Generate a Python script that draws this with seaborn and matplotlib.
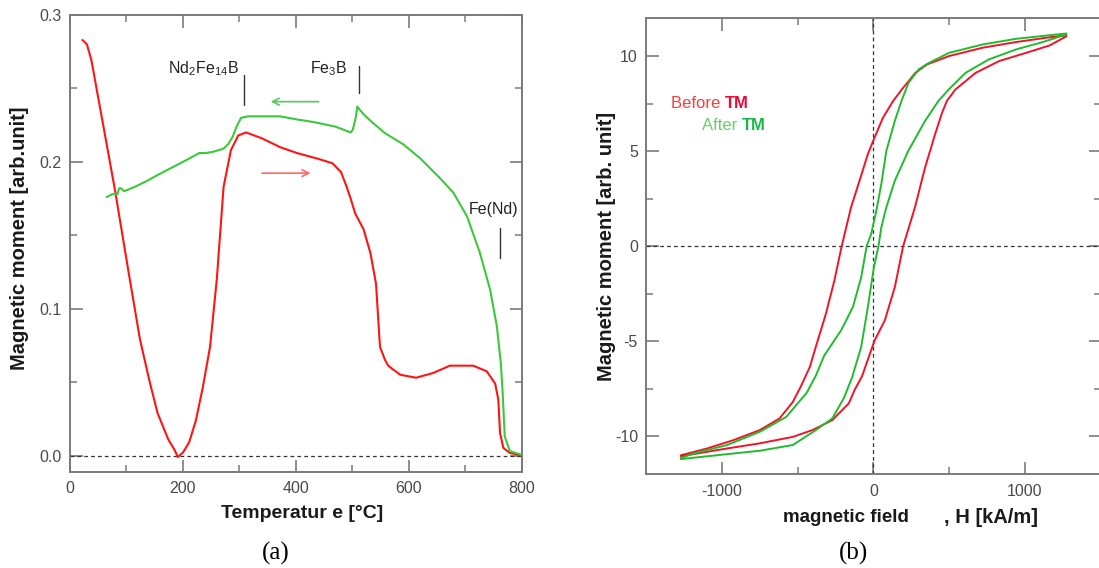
import matplotlib
matplotlib.use("Agg")
import matplotlib.pyplot as plt
import seaborn as sns
from matplotlib.ticker import MultipleLocator, FixedLocator

# ---------------- data: panel (a) thermomagnetic curves ----------------
temp_heating = [22, 30, 38, 56, 80, 105, 124, 140, 155, 174, 185, 191, 200, 211, 223,
                235, 248, 260, 272, 285, 298, 312, 340, 372, 402, 440, 465, 480, 490,
                497, 505, 520, 532, 542, 549, 558, 564, 585, 613, 643, 673, 714, 738,
                753, 758.6, 761.6, 767.5, 779, 800]
moment_heating = [0.283, 0.280, 0.269, 0.231, 0.180, 0.122, 0.079, 0.052, 0.029, 0.011,
                  0.004, -0.001, 0.002, 0.009, 0.024, 0.046, 0.074, 0.120, 0.183, 0.208,
                  0.218, 0.220, 0.216, 0.210, 0.206, 0.202, 0.199, 0.193, 0.183, 0.175,
                  0.165, 0.154, 0.138, 0.117, 0.074, 0.065, 0.061, 0.055, 0.053, 0.0562,
                  0.0612, 0.0612, 0.0574, 0.049, 0.038, 0.0154, 0.0052, 0.0018, 0.0]

temp_cooling = [800, 779, 770, 766, 763, 756, 744, 726, 703, 679, 655, 620, 590, 558, 535,
                521, 512, 509, 506, 501, 497, 470, 433, 400, 372, 340, 316, 303, 295, 288,
                280, 272, 255, 241, 229, 210, 185, 160, 136, 115, 96, 90, 87, 84, 75, 65]
moment_cooling = [0.0005, 0.003, 0.013, 0.045, 0.063, 0.088, 0.113, 0.138, 0.163, 0.179,
                  0.189, 0.2025, 0.212, 0.2195, 0.227, 0.232, 0.236, 0.2377, 0.230, 0.222,
                  0.220, 0.224, 0.227, 0.229, 0.231, 0.231, 0.231, 0.230, 0.224, 0.217,
                  0.212, 0.209, 0.207, 0.206, 0.206, 0.202, 0.197, 0.192, 0.187, 0.183,
                  0.180, 0.182, 0.182, 0.178, 0.178, 0.176]

phase_labels = [r"Nd$_2$Fe$_{14}$B", r"Fe$_3$B", "Fe(Nd)"]
phase_text_x = [174, 425, 707]
phase_text_y = [0.2637, 0.2637, 0.1673]
phase_mark_x = [308, 511.6, 761]
phase_mark_y0 = [0.239, 0.2467, 0.1345]
phase_mark_y1 = [0.259, 0.2655, 0.155]

# ---------------- data: panel (b) hysteresis loops ----------------
H_before_down = [1274, 1163, 941, 720, 498, 354, 277, 188, 130, 63, 3, -37, -92, -148,
                 -210, -258, -314, -381, -420, -481, -533, -620, -750, -924, -1098, -1272]
M_before_down = [11.1, 11.0, 10.75, 10.45, 10.01, 9.57, 9.13, 8.26, 7.65, 6.77, 5.64,
                 4.85, 3.45, 2.05, 0.0, -1.8, -3.55, -5.3, -6.35, -7.4, -8.2, -9.06,
                 -9.67, -10.2, -10.64, -11.0]
H_before_up = [-1272, -967, -750, -533, -402, -272, -163, -125, -76, 8, 75, 141, 196, 274,
               341, 407, 453, 485, 542, 675, 830, 1007, 1163, 1274]
M_before_up = [-11.05, -10.64, -10.37, -10.03, -9.67, -9.15, -8.27, -7.57, -6.85, -4.95,
               -3.9, -2.15, 0.0, 2.05, 4.15, 5.9, 7.03, 7.65, 8.26, 9.13, 9.75, 10.18,
               10.57, 11.05]

H_after_down = [1274, 1163, 941, 720, 498, 354, 299, 232, 185, 141, 85, 52, 19, -15, -45,
                -81, -136, -214, -325, -380, -440, -576, -750, -967, -1185, -1272]
M_after_down = [11.2, 11.11, 10.92, 10.62, 10.18, 9.6, 9.31, 8.61, 7.65, 6.6, 5.02, 3.28,
                1.87, 0.65, 0.0, -1.63, -3.2, -4.43, -5.75, -6.8, -7.7, -8.98, -9.76,
                -10.46, -10.9, -11.15]
H_after_up = [-1272, -967, -750, -533, -380, -272, -196, -141, -81, -37, 3, 33, 52, 85,
              141, 230, 341, 429, 498, 608, 763, 941, 1118, 1274]
M_after_up = [-11.2, -10.94, -10.76, -10.46, -9.67, -9.06, -8.0, -6.9, -5.3, -3.2, -1.1,
              0.0, 1.0, 2.05, 3.45, 5.02, 6.6, 7.65, 8.26, 9.13, 9.84, 10.36, 10.75, 11.15]

# ---------------- style ----------------
sns.set_style("ticks")
plt.rcParams["font.family"] = ["Liberation Sans", "DejaVu Sans"]
plt.rcParams["mathtext.default"] = "regular"
plt.rcParams["axes.unicode_minus"] = False

RED_A = "#ff1414"
GREEN_A = "#3cc83c"
RED_B = "#f01428"
GREEN_B = "#22bb30"
SPINE = "#7a7a7a"
TICKLAB = "#4a4a4a"
LABEL = "#1a1a1a"

W, Hh = 1099, 568
fig = plt.figure(figsize=(W / 100, Hh / 100), dpi=100)
ax1 = fig.add_axes([70 / W, 1 - 471.7 / Hh, (521.7 - 70) / W, (471.7 - 15) / Hh])
ax2 = fig.add_axes([646.3 / W, 1 - 474.3 / Hh, (1100.6 - 646.3) / W, (474.3 - 18.3) / Hh])


def style_axes(ax):
    for s in ax.spines.values():
        s.set_color(SPINE)
        s.set_linewidth(1.4)
    ax.tick_params(which="major", direction="in", length=9, width=1.2, color=SPINE,
                   top=True, right=True, labelsize=11.5, labelcolor=TICKLAB, pad=6)
    ax.tick_params(which="minor", direction="in", length=5, width=1.1, color=SPINE,
                   top=True, right=True)
    ax.tick_params(axis="x", which="major", pad=7)


# ---------------- panel (a) ----------------
ax1.axhline(0, color="#333333", lw=0.9, ls=(0, (3, 2.5)), zorder=1)
sns.lineplot(x=temp_heating, y=moment_heating, sort=False, estimator=None, ax=ax1,
             color=RED_A, lw=1.5, zorder=3)
sns.lineplot(x=temp_cooling, y=moment_cooling, sort=False, estimator=None, ax=ax1,
             color=GREEN_A, lw=1.5, zorder=3)
ax1.set_xlim(0, 800)
ax1.set_ylim(-0.011, 0.3)
ax1.xaxis.set_major_locator(FixedLocator([0, 200, 400, 600, 800]))
ax1.xaxis.set_minor_locator(MultipleLocator(100))
ax1.yaxis.set_major_locator(FixedLocator([0.0, 0.1, 0.2, 0.3]))
ax1.yaxis.set_minor_locator(MultipleLocator(0.05))
ax1.set_yticklabels(["0.0", "0.1", "0.2", "0.3"])
style_axes(ax1)
ax1.set_xlabel("")
ax1.set_ylabel("")

for lab, tx, ty, mx, y0, y1 in zip(phase_labels, phase_text_x, phase_text_y,
                                   phase_mark_x, phase_mark_y0, phase_mark_y1):
    ax1.text(tx, ty, lab, fontsize=11.5, color="#222222", ha="left", va="center")
    ax1.plot([mx, mx], [y0, y1], color="#333333", lw=1.0)

ax1.annotate("", xy=(350.5, 0.241), xytext=(445, 0.241),
             arrowprops=dict(arrowstyle="->", color="#55c855", lw=1.2,
                             mutation_scale=12))
ax1.annotate("", xy=(431, 0.1923), xytext=(335, 0.1923),
             arrowprops=dict(arrowstyle="->", color="#ff6a6a", lw=1.2,
                             mutation_scale=12))

# ---------------- panel (b) ----------------
ax2.axhline(0, color="#333333", lw=0.9, ls=(0, (3, 2.5)), zorder=1)
ax2.axvline(0, color="#333333", lw=0.9, ls=(0, (3, 2.5)), zorder=1)
for hx, my, col in [(H_before_down, M_before_down, RED_B), (H_before_up, M_before_up, RED_B),
                    (H_after_down, M_after_down, GREEN_B), (H_after_up, M_after_up, GREEN_B)]:
    sns.lineplot(x=hx, y=my, sort=False, estimator=None, ax=ax2, color=col, lw=1.4,
                 zorder=3)
ax2.set_xlim(-1500, 1500)
ax2.set_ylim(-12, 12)
ax2.xaxis.set_major_locator(FixedLocator([-1000, 0, 1000]))
ax2.xaxis.set_minor_locator(FixedLocator([-500, 500]))
ax2.yaxis.set_major_locator(FixedLocator([-10, -5, 0, 5, 10]))
ax2.yaxis.set_minor_locator(FixedLocator([-7.5, -2.5, 2.5, 7.5]))
style_axes(ax2)
ax2.set_xlabel("")
ax2.set_ylabel("")

t1 = ax2.text(-1338, 7.53, "Before ", fontsize=12, color="#ff3a3a", ha="left",
              va="center")
ax2.annotate("TM", xy=(1, 0), xycoords=t1, ha="left", va="bottom", fontsize=12,
             fontweight="bold", color="#e8083a")
t2 = ax2.text(-1135, 6.34, "After ", fontsize=12, color="#66d066", ha="left",
              va="center")
ax2.annotate("TM", xy=(1, 0), xycoords=t2, ha="left", va="bottom", fontsize=12,
             fontweight="bold", color="#18b848")

# ---------------- figure texts ----------------
fig.text(302 / W, 1 - 513.3 / Hh, "Temperatur e [°C]", fontsize=14, fontweight="bold",
         color=LABEL, ha="center", va="center")
fig.text(20 / W, 1 - 238 / Hh, "Magnetic moment [arb.unit]", fontsize=14.5,
         fontweight="bold", color=LABEL, ha="center", va="center", rotation=90)
fig.text(607 / W, 1 - 246 / Hh, "Magnetic moment [arb. unit]", fontsize=14.5,
         fontweight="bold", color=LABEL, ha="center", va="center", rotation=90)
fig.text(846 / W, 1 - 517.3 / Hh, "magnetic field", fontsize=13.5, fontweight="bold",
         color=LABEL, ha="center", va="center")
fig.text(944 / W, 1 - 517.3 / Hh, ", H [kA/m]", fontsize=14.5, fontweight="bold",
         color=LABEL, ha="left", va="center")
fig.text(276 / W, 1 - 553 / Hh, "(a)", fontsize=18, family="Liberation Serif",
         color="#000000", ha="center", va="center")
fig.text(854 / W, 1 - 553 / Hh, "(b)", fontsize=18, family="Liberation Serif",
         color="#000000", ha="center", va="center")

fig.savefig("out.png", dpi=100)
